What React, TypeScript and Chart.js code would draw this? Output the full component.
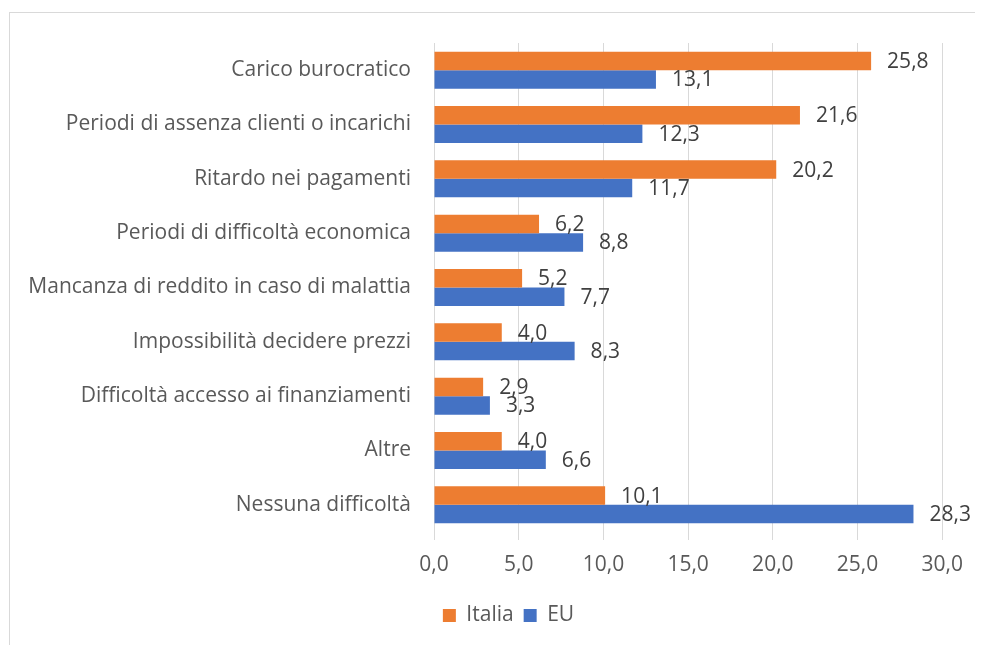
import { useEffect, useRef } from "react";
import { Chart, registerables } from "chart.js";

Chart.register(...registerables);

const categories = [
  "Carico burocratico",
  "Periodi di assenza clienti o incarichi",
  "Ritardo nei pagamenti",
  "Periodi di difficoltà economica",
  "Mancanza di reddito in caso di malattia",
  "Impossibilità decidere prezzi",
  "Difficoltà accesso ai finanziamenti",
  "Altre",
  "Nessuna difficoltà",
];

const italiaValues = [25.8, 21.6, 20.2, 6.2, 5.2, 4.0, 2.9, 4.0, 10.1];
const euValues = [13.1, 12.3, 11.7, 8.8, 7.7, 8.3, 3.3, 6.6, 28.3];

const seriesNames = ["Italia", "EU"];
const xMin = 0;
const xMax = 30;
const xStep = 5;

const FONT = "'Open Sans', sans-serif";
const fmt = (v: number) => v.toFixed(1).replace(".", ",");

const valueLabels = {
  id: "valueLabels",
  afterDatasetsDraw(chart: any) {
    const ctx = chart.ctx;
    ctx.save();
    ctx.font = `21px ${FONT}`;
    ctx.fillStyle = "#404040";
    ctx.textAlign = "left";
    ctx.textBaseline = "middle";
    chart.data.datasets.forEach((ds: any, i: number) => {
      const meta = chart.getDatasetMeta(i);
      meta.data.forEach((bar: any, j: number) => {
        ctx.fillText(fmt(ds.data[j]), bar.x + 16, bar.y + 1);
      });
    });
    ctx.restore();
  },
};

const legendShift = {
  id: "legendShift",
  afterLayout(chart: any) {
    const l = chart.legend;
    if (l) {
      l.left += 24;
      l.right += 24;
    }
  },
};

export default function App() {
  const ref = useRef<HTMLCanvasElement | null>(null);

  useEffect(() => {
    document.body.style.overflow = "hidden";
    if (!ref.current) return;
    const chart = new Chart(ref.current, {
      type: "bar",
      data: {
        labels: categories,
        datasets: [
          {
            label: seriesNames[0],
            data: italiaValues,
            backgroundColor: "#ED7D31",
            categoryPercentage: 0.68,
            barPercentage: 1,
          },
          {
            label: seriesNames[1],
            data: euValues,
            backgroundColor: "#4472C4",
            categoryPercentage: 0.68,
            barPercentage: 1,
          },
        ],
      },
      options: {
        indexAxis: "y",
        responsive: false,
        animation: false,
        layout: { padding: { left: 13, right: 27, top: 35, bottom: 9 } },
        plugins: {
          tooltip: { enabled: false },
          legend: {
            position: "bottom",
            labels: {
              boxWidth: 13,
              boxHeight: 13,
              padding: 10,
              color: "#595959",
              font: { family: FONT, size: 21 },
            },
          },
        },
        scales: {
          x: {
            min: xMin,
            max: xMax,
            ticks: {
              stepSize: xStep,
              color: "#595959",
              font: { family: FONT, size: 21 },
              padding: 12,
              callback: (v: any) => fmt(Number(v)),
            },
            grid: { color: "#d9d9d9", lineWidth: 1, tickLength: 8 },
            border: { display: false },
            afterFit: (s: any) => {
              s.height = 63;
            },
          },
          y: {
            ticks: {
              color: "#595959",
              font: { family: FONT, size: 21 },
              padding: 15,
            },
            grid: { display: false },
            border: { display: false },
            afterFit: (s: any) => {
              s.width = 413;
            },
          },
        },
      },
      plugins: [valueLabels, legendShift],
    });
    return () => chart.destroy();
  }, []);

  return (
    <div style={{ position: "relative", width: 967, height: 637 }}>
      <div
        style={{
          position: "absolute",
          left: 1,
          top: 4,
          width: 1000,
          height: 1000,
          border: "1px solid #d9d9d9",
          boxSizing: "border-box",
        }}
      />
      <canvas
        ref={ref}
        width={967}
        height={637}
        style={{ position: "absolute", left: 0, top: 0, width: 967, height: 637 }}
      />
    </div>
  );
}
